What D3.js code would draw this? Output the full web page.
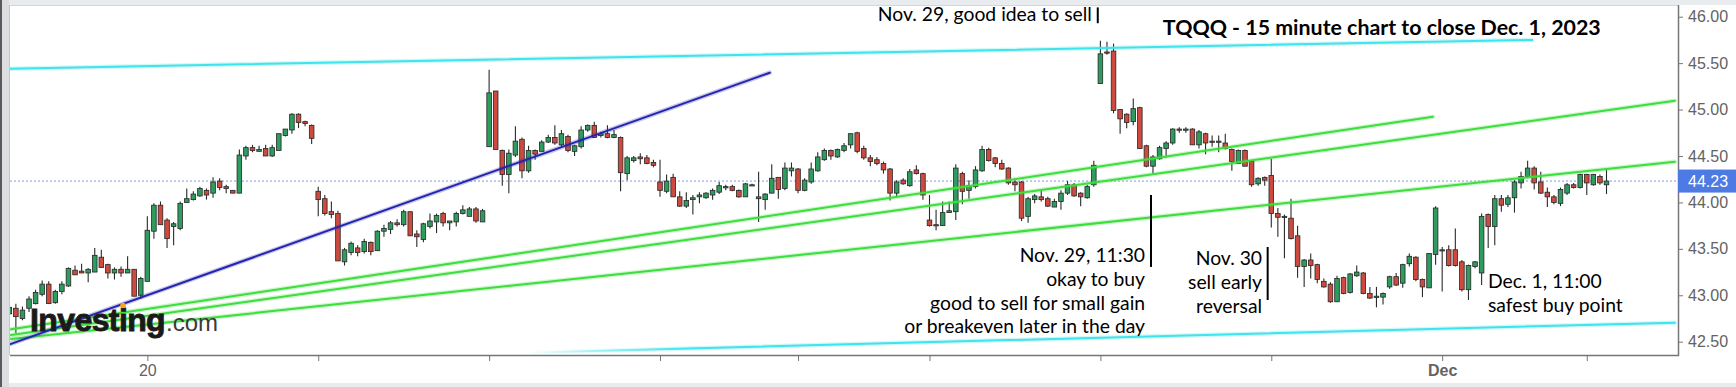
<!DOCTYPE html>
<html><head><meta charset="utf-8">
<script src="https://cdn.jsdelivr.net/npm/d3@7"></script>
<style>html,body{margin:0;padding:0;background:#fff}svg{display:block}</style>
</head><body>
<svg id="c" width="1736" height="387"></svg>
<script>
// ---------- DATA (TQQQ 15-minute candles, Nov 17 – Dec 1, 2023) ----------
const opens = [42.80,42.86,42.75,42.86,42.91,43.01,43.12,42.92,43.04,43.10,43.27,43.26,43.24,43.25,43.41,43.33,43.24,43.28,43.24,43.28,43.00,
43.15,43.69,43.97,43.81,43.74,43.72,44.00,44.03,44.07,44.13,44.10,44.23,44.17,44.13,44.10,44.50,44.59,44.55,44.58,44.50,44.56,44.72,44.78,44.95,44.87,44.83,
44.12,44.04,43.90,43.88,43.36,43.46,43.51,43.47,43.57,43.48,43.69,43.71,43.78,43.76,43.90,43.66,43.60,43.74,43.79,43.88,43.78,43.79,43.88,43.85,43.93,43.79,
44.60,45.20,44.56,44.30,44.51,44.68,44.34,44.56,44.55,44.65,44.70,44.62,44.71,44.55,44.60,44.78,44.83,44.72,44.74,44.70,44.70,44.31,44.45,44.49,44.48,44.43,
44.22,44.12,44.27,44.06,43.96,44.03,44.06,44.05,44.08,44.11,44.16,44.17,44.13,44.06,44.19,
44.04,44.03,44.10,44.27,44.15,44.34,44.36,44.13,44.22,44.34,44.46,44.56,44.49,44.56,44.62,44.75,44.58,44.48,44.46,44.42,44.36,44.10,44.24,44.18,44.35,44.31,
43.81,43.76,43.75,43.89,43.90,44.31,44.13,44.17,44.34,44.57,44.48,44.42,44.37,44.22,44.22,43.85,44.03,44.06,44.04,43.95,44.01,44.10,44.19,44.10,44.05,44.19,
45.28,45.62,45.63,45.00,44.95,44.87,45.02,44.61,44.39,44.47,44.58,44.64,44.79,44.78,44.79,44.62,44.74,44.66,44.65,44.64,44.57,44.42,44.56,44.44,44.20,44.27,
44.29,43.88,43.85,43.83,43.64,43.31,43.38,43.33,43.15,43.12,42.93,43.19,43.03,43.21,43.24,43.02,42.98,42.98,43.09,43.20,43.13,43.34,43.41,43.17,43.08,43.44,
43.48,43.49,43.49,43.36,43.06,43.31,43.24,43.87,43.74,44.04,43.98,44.05,44.21,44.28,44.37,44.22,44.11,44.06,43.99,44.10,44.19,44.16,44.30,44.19,44.28,44.19];
const highs = [42.92,42.91,42.88,42.99,43.06,43.16,43.15,43.06,43.15,43.30,43.32,43.34,43.29,43.51,43.49,43.34,43.30,43.31,43.42,43.28,43.20,
43.85,43.99,44.01,43.83,43.79,44.01,44.15,44.12,44.17,44.15,44.27,44.26,44.19,44.13,44.57,44.61,44.62,44.61,44.62,44.62,44.74,44.79,44.96,44.96,44.88,44.84,
44.17,44.08,44.01,43.91,43.51,43.58,43.54,43.61,43.58,43.70,43.76,43.80,43.82,43.92,43.90,43.70,43.78,43.88,43.88,43.90,43.80,43.90,43.97,43.95,43.95,43.93,
45.43,45.20,44.57,44.57,44.82,44.70,44.61,44.57,44.67,44.73,44.83,44.78,44.73,44.62,44.82,44.84,44.87,44.76,44.83,44.78,44.71,44.50,44.50,44.53,44.51,44.46,
44.46,44.30,44.31,44.12,44.11,44.08,44.11,44.11,44.15,44.22,44.19,44.19,44.14,44.21,44.20,
44.33,44.10,44.41,44.27,44.43,44.43,44.37,44.26,44.43,44.54,44.58,44.57,44.58,44.64,44.74,44.76,44.61,44.51,44.49,44.44,44.37,44.24,44.26,44.36,44.40,44.32,
44.08,43.92,44.01,44.01,44.41,44.33,44.24,44.39,44.61,44.59,44.49,44.46,44.38,44.24,44.23,44.06,44.09,44.13,44.06,44.04,44.13,44.23,44.21,44.11,44.19,44.45,
45.74,45.73,45.71,45.00,44.96,45.12,45.03,44.62,44.51,44.61,44.66,44.80,44.81,44.81,44.80,44.78,44.75,44.72,44.72,44.74,44.58,44.57,44.57,44.45,44.27,44.28,
44.47,43.94,43.87,44.04,43.75,43.39,43.45,43.34,43.18,43.14,43.21,43.20,43.24,43.32,43.25,43.09,43.09,43.03,43.21,43.24,43.34,43.45,43.42,43.18,43.45,43.96,
43.52,43.54,43.72,43.38,43.33,43.37,43.88,43.88,44.08,44.08,44.08,44.24,44.33,44.45,44.39,44.33,44.16,44.08,44.16,44.21,44.21,44.31,44.31,44.31,44.30,44.35];
const lows = [42.76,42.59,42.73,42.82,42.90,42.99,42.91,42.91,43.01,43.09,43.22,43.24,43.14,43.25,43.30,43.18,43.17,43.20,43.24,42.99,42.96,
43.15,43.61,43.76,43.51,43.54,43.70,44.00,44.02,44.06,44.03,44.05,44.13,44.10,44.10,44.10,44.46,44.54,44.55,44.50,44.49,44.56,44.71,44.74,44.80,44.82,44.63,
43.85,43.86,43.83,43.37,43.32,43.43,43.42,43.45,43.43,43.48,43.63,43.66,43.74,43.74,43.64,43.52,43.57,43.72,43.67,43.74,43.70,43.74,43.87,43.85,43.78,43.79,
44.60,44.57,44.18,44.10,44.49,44.26,44.32,44.46,44.55,44.64,44.62,44.60,44.54,44.50,44.58,44.76,44.70,44.70,44.69,44.69,44.12,44.24,44.43,44.41,44.41,44.38,
44.06,44.10,44.06,43.95,43.94,43.87,43.99,44.04,44.03,44.09,44.13,44.12,44.05,44.06,44.18,
43.79,43.92,44.10,44.04,44.13,44.28,44.10,44.12,44.20,44.33,44.45,44.46,44.48,44.54,44.58,44.53,44.46,44.39,44.40,44.31,44.02,44.06,44.19,44.17,44.30,44.03,
43.74,43.70,43.75,43.89,43.81,43.98,44.04,44.15,44.33,44.44,44.38,44.35,44.19,44.12,43.80,43.78,43.99,44.01,43.95,43.95,43.92,44.08,44.06,43.96,44.04,44.17,
45.28,45.59,44.96,44.74,44.80,44.83,44.58,44.38,44.31,44.46,44.48,44.62,44.75,44.75,44.62,44.58,44.52,44.60,44.54,44.57,44.34,44.42,44.39,44.17,44.18,44.18,
43.73,43.63,43.40,43.60,43.19,43.09,43.18,43.13,43.08,42.92,42.93,43.01,43.02,43.20,43.01,42.96,42.87,42.90,43.07,43.10,43.08,43.31,43.15,42.98,43.08,43.33,
43.04,43.31,43.31,43.04,42.95,43.29,43.11,43.51,43.54,43.90,43.95,43.89,44.15,44.26,44.14,44.09,43.95,43.98,43.96,44.08,44.15,44.15,44.08,44.18,44.19,44.09];
const closes = [42.87,42.77,42.84,42.96,43.03,43.12,42.91,43.04,43.12,43.29,43.22,43.24,43.28,43.43,43.30,43.24,43.28,43.24,43.28,42.99,43.18,
43.70,43.97,43.76,43.61,43.77,43.99,44.04,44.09,44.15,44.08,44.22,44.16,44.15,44.10,44.51,44.59,44.56,44.57,44.50,44.59,44.74,44.79,44.95,44.86,44.85,44.69,
44.03,43.88,43.87,43.37,43.49,43.56,43.46,43.58,43.47,43.69,43.72,43.78,43.76,43.90,43.64,43.63,43.77,43.80,43.86,43.78,43.80,43.88,43.92,43.93,43.80,43.91,
45.18,44.57,44.30,44.53,44.66,44.34,44.56,44.52,44.65,44.70,44.64,44.74,44.56,44.61,44.78,44.83,44.70,44.74,44.70,44.73,44.32,44.48,44.48,44.47,44.42,44.40,
44.13,44.23,44.06,43.96,44.02,44.05,44.08,44.10,44.13,44.18,44.17,44.13,44.06,44.20,44.19,
44.06,44.09,44.26,44.14,44.37,44.37,44.13,44.24,44.36,44.49,44.56,44.50,44.57,44.61,44.74,44.55,44.48,44.44,44.42,44.35,44.10,44.22,44.20,44.33,44.31,44.08,
43.75,43.75,43.89,43.91,44.37,44.12,44.18,44.35,44.57,44.45,44.42,44.36,44.21,44.19,43.83,44.04,44.07,44.03,43.96,44.01,44.10,44.19,44.07,44.06,44.17,44.40,
45.60,45.61,44.99,44.90,44.86,45.01,44.58,44.39,44.49,44.59,44.64,44.79,44.78,44.79,44.62,44.76,44.64,44.65,44.66,44.58,44.44,44.56,44.39,44.19,44.26,44.24,
43.88,43.84,43.85,43.61,43.31,43.38,43.32,43.17,43.09,42.93,43.18,43.02,43.23,43.25,43.02,42.97,42.99,43.02,43.20,43.11,43.33,43.42,43.17,43.09,43.45,43.94,
43.49,43.32,43.32,43.06,43.32,43.36,43.85,43.74,44.04,43.97,44.05,44.22,44.28,44.37,44.21,44.10,44.06,44.00,44.14,44.19,44.16,44.30,44.21,44.30,44.21,44.23];

// session-start candle indexes used as x-axis ticks, and their labels
const tickIdx    = [21, 47, 73, 99, 120, 140, 166, 192, 218, 240];
const tickLabels = ["20", "", "", "", "", "", "", "", "Dec", ""];
const priceTicks = [42.5, 43.0, 43.5, 44.0, 44.5, 45.0, 45.5, 46.0];
const lastPrice  = 44.23;

// drawn trend lines: [index0, price0, index1, price1]
const cyanLines  = [[0.1, 45.44, 231.7, 45.75], [78.8, 42.382, 253.4, 42.705]];
const greenLines = [[0.26, 42.634, 216.6, 44.923], [0.26, 42.572, 253.4, 45.095], [0.26, 42.529, 253.4, 44.439]];
const blueLines  = [[0.0, 42.47, 115.7, 45.397]];

// annotation rules: [index, topPrice, bottomPrice]
const noteRules = [[165.6, 46.10, 45.93], [173.7, 44.08, 43.305], [191.45, 43.52, 42.949]];
const noteTexts = [
  {i: 164.7, p: 45.957, anchor: "end",   lines: ["Nov. 29, good idea to sell"]},
  {i: 172.8, p: 43.358, anchor: "end",   lines: ["Nov. 29, 11:30", "okay to buy", "good to sell for small gain", "or breakeven later in the day"]},
  {i: 190.6, p: 43.326, anchor: "end",   lines: ["Nov. 30", "sell early", "reversal"]},
  {i: 224.96, p: 43.075, anchor: "start", lines: ["Dec. 1, 11:00", "safest buy point"]}
];
const titleText = "TQQQ - 15 minute chart to close Dec. 1, 2023";
const titleAnchor = {i: 175.5, p: 45.803};

// ---------- LAYOUT ----------
const W = 1736, H = 387;
const L = 10, R = 1678, T = 5, B = 355;
const svg = d3.select("#c");

const x = d3.scaleLinear().domain([0, 243]).range([9.3, 1606.5]);
const y = d3.scaleLinear().domain([42.5, 46.0]).range([341.7, 16.7]);

// frame
svg.append("rect").attr("x", 0).attr("y", 0).attr("width", W).attr("height", H).attr("fill", "#fff");
svg.append("rect").attr("x", 0).attr("y", 0).attr("width", W).attr("height", T).attr("fill", "#e9ecef");
svg.append("rect").attr("x", 0).attr("y", 383).attr("width", W).attr("height", 4).attr("fill", "#e9ecef");
svg.append("rect").attr("x", 0).attr("y", 0).attr("width", L - 1).attr("height", H).attr("fill", "#dcdee1");
svg.append("rect").attr("x", 0).attr("y", 0).attr("width", 2).attr("height", H).attr("fill", "#5a5a5a");
svg.append("line").attr("x1", L).attr("x2", R).attr("y1", T + 0.5).attr("y2", T + 0.5).attr("stroke", "#d3d6da");
svg.append("line").attr("x1", L - 0.5).attr("x2", L - 0.5).attr("y1", T).attr("y2", B).attr("stroke", "#c3c6ca");

const defs = svg.append("defs");
defs.append("clipPath").attr("id", "clip")
  .append("rect").attr("x", L).attr("y", T).attr("width", R - L).attr("height", B - T);
const grad = defs.append("linearGradient").attr("id", "fadeCyan")
  .attr("gradientUnits", "userSpaceOnUse")
  .attr("x1", x(cyanLines[1][0])).attr("x2", x(cyanLines[1][0] + 25)).attr("y1", 0).attr("y2", 0);
grad.append("stop").attr("offset", 0).attr("stop-color", "#3fe3ea").attr("stop-opacity", 0);
grad.append("stop").attr("offset", 1).attr("stop-color", "#3fe3ea").attr("stop-opacity", 1);

const plot = svg.append("g").attr("clip-path", "url(#clip)");

// last price dotted line
plot.append("line").attr("x1", L).attr("x2", R)
  .attr("y1", y(lastPrice)).attr("y2", y(lastPrice))
  .attr("stroke", "#7d9be0").attr("stroke-width", 1).attr("stroke-dasharray", "2,2");

// candles
const idx = d3.range(opens.length);
const bw = 4.6;
const up = "#2e9c5f", dn = "#cf4a3e", edge = "#262626";
const cg = plot.append("g");
cg.selectAll(null).data(idx).join("line")
  .attr("x1", i => x(i)).attr("x2", i => x(i))
  .attr("y1", i => y(highs[i])).attr("y2", i => y(lows[i]))
  .attr("stroke", "#2a2a2a").attr("stroke-width", 1.1);
cg.selectAll(null).data(idx).join("rect")
  .attr("x", i => x(i) - bw / 2)
  .attr("y", i => y(Math.max(opens[i], closes[i])))
  .attr("width", bw)
  .attr("height", i => Math.max(1.2, Math.abs(y(opens[i]) - y(closes[i]))))
  .attr("fill", i => closes[i] >= opens[i] ? up : dn)
  .attr("stroke", edge).attr("stroke-width", 0.8);

// trend lines
function drawLines(arr, color, fadeSecond) {
  const g = plot.append("g");
  [[4.5, 0.25], [2, 1]].forEach(([w, o]) => {
    g.selectAll(null).data(arr).join("line")
      .attr("x1", d => x(d[0])).attr("y1", d => y(d[1]))
      .attr("x2", d => x(d[2])).attr("y2", d => y(d[3]))
      .attr("stroke", (d, k) => (fadeSecond && k === 1) ? "url(#fadeCyan)" : color)
      .attr("stroke-width", w).attr("stroke-opacity", o).attr("stroke-linecap", "round");
  });
}
drawLines(cyanLines, "#3fe3ea", true);
drawLines(greenLines, "#3ddd3d", false);
drawLines(blueLines, "#2424b0", false);

// Investing.com watermark
const logo = svg.append("text").attr("x", 30).attr("y", 331)
  .attr("font-family", "'Liberation Sans', Arial, sans-serif");
logo.append("tspan").attr("font-weight", 700).attr("font-size", 32).attr("fill", "#1a1a1a")
  .attr("stroke", "#1a1a1a").attr("stroke-width", 0.9).attr("letter-spacing", -0.6).text("Investing");
logo.append("tspan").attr("font-weight", 400).attr("font-size", 24).attr("fill", "#3a3a3a").attr("dx", 1).text(".com");
svg.append("circle").attr("cx", 123).attr("cy", 305.5).attr("r", 2.8).attr("fill", "#f5a623");

// axes
const axisCol = "#767676", labelCol = "#636363";
const yAxis = svg.append("g").attr("transform", `translate(${R},0)`)
  .call(d3.axisRight(y).tickValues(priceTicks).tickFormat(d3.format(".2f")).tickSize(5).tickPadding(5));
yAxis.select(".domain").remove();
yAxis.selectAll(".tick line").attr("stroke", axisCol);
yAxis.selectAll(".tick text").attr("fill", labelCol).attr("font-size", 16)
  .attr("font-family", "'Liberation Sans', Arial, sans-serif");
svg.append("line").attr("x1", R + 0.5).attr("x2", R + 0.5).attr("y1", T).attr("y2", B + 1)
  .attr("stroke", axisCol).attr("stroke-width", 1.5);

const xAxis = svg.append("g").attr("transform", `translate(0,${B})`)
  .call(d3.axisBottom(x).tickValues(tickIdx).tickFormat((d, k) => tickLabels[k]).tickSize(6).tickPadding(4));
xAxis.select(".domain").remove();
xAxis.selectAll(".tick line").attr("stroke", axisCol);
xAxis.selectAll(".tick text").attr("fill", labelCol).attr("font-size", 16)
  .attr("font-family", "'Liberation Sans', Arial, sans-serif")
  .attr("font-weight", d => tickLabels[tickIdx.indexOf(d)] === "Dec" ? 700 : 400);
svg.append("line").attr("x1", L).attr("x2", R + 1).attr("y1", B + 0.5).attr("y2", B + 0.5)
  .attr("stroke", axisCol).attr("stroke-width", 1.5);

// last price tag
svg.append("rect").attr("x", R).attr("y", y(lastPrice) - 11.5).attr("width", W - R).attr("height", 23)
  .attr("fill", "#4d7ae3");
svg.append("text").attr("x", R + 10).attr("y", y(lastPrice)).attr("dy", "0.35em")
  .attr("fill", "#fff").attr("font-size", 16).attr("font-family", "'Liberation Sans', Arial, sans-serif")
  .text(d3.format(".2f")(lastPrice));

// annotations
const fam = "Lato, 'Open Sans', sans-serif";
function fitSize(text, weight, target) {
  const t = svg.append("text").attr("font-family", fam).attr("font-weight", weight).attr("font-size", 20).text(text);
  const w = t.node().getComputedTextLength();
  t.remove();
  return 20 * target / w;
}
const noteSize = fitSize("or breakeven later in the day", 400, 241);
const titleSize = fitSize(titleText, 700, 438);

svg.append("g").selectAll(null).data(noteRules).join("line")
  .attr("x1", d => x(d[0])).attr("x2", d => x(d[0]))
  .attr("y1", d => y(d[1])).attr("y2", d => y(d[2]))
  .attr("stroke", "#000").attr("stroke-width", 2);

noteTexts.forEach(n => {
  const t = svg.append("text").attr("font-family", fam).attr("font-size", noteSize)
    .attr("fill", "#000").attr("text-anchor", n.anchor);
  n.lines.forEach((ln, k) => {
    t.append("tspan").attr("x", x(n.i)).attr("y", y(n.p) + k * 23.8).text(ln);
  });
});

svg.append("text").attr("x", x(titleAnchor.i)).attr("y", y(titleAnchor.p))
  .attr("font-family", fam).attr("font-weight", 700).attr("font-size", titleSize)
  .attr("fill", "#000").text(titleText);
</script>
</body></html>
